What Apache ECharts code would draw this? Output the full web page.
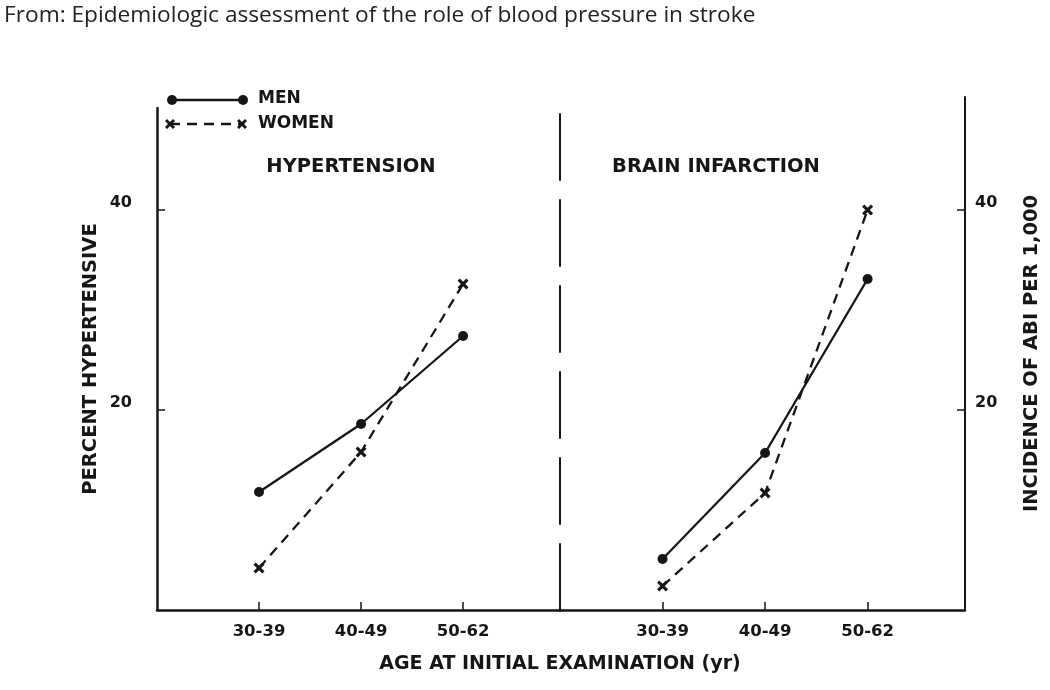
<!DOCTYPE html>
<html>
<head>
<meta charset="utf-8">
<script src="https://cdn.jsdelivr.net/npm/echarts@6/dist/echarts.min.js"></script>
<style>
html,body{margin:0;padding:0;background:#fff;}
#chart{width:1050px;height:690px;}
</style>
</head>
<body>
<div id="chart"></div>
<script>
// ---- data ----
const categories = ['30-39', '40-49', '50-62'];
const hypertensionMen = [11.8, 18.6, 27.4];
const hypertensionWomen = [4.2, 15.8, 32.6];
const infarctionMen = [5.1, 15.7, 33.1];
const infarctionWomen = [2.4, 11.7, 40.0];
const yTickValues = [20, 40];
const panelTitles = ['HYPERTENSION', 'BRAIN INFARCTION'];
const seriesNames = ['MEN', 'WOMEN'];
const leftAxisName = 'PERCENT HYPERTENSIVE';
const rightAxisName = 'INCIDENCE OF ABI PER 1,000';
const xAxisName = 'AGE AT INITIAL EXAMINATION (yr)';
const pageTitle = 'From: Epidemiologic assessment of the role of blood pressure in stroke';

// ---- chart ----
const INK = '#161616';
const FONT = 'DejaVu Sans';
const xPos = categories.map((c, i) => i + 1);
const toPts = vals => vals.map((v, i) => [xPos[i], v]);
const xSymbol = 'path://M2,0 L5,3 L8,0 L10,2 L7,5 L10,8 L8,10 L5,7 L2,10 L0,8 L3,5 L0,2 Z';
function crossPoints(cx, cy, s) {
  const p = [[2,0],[5,3],[8,0],[10,2],[7,5],[10,8],[8,10],[5,7],[2,10],[0,8],[3,5],[0,2]];
  return p.map(q => [cx + (q[0] - 5) * s / 10, cy + (q[1] - 5) * s / 10]);
}

function xAxisFor(gridIndex) {
  return {
    type: 'value', gridIndex, min: 0, max: 3.95, interval: 1,
    axisLine: {show: true, lineStyle: {color: INK, width: 2.5}},
    axisTick: {show: true, inside: true, length: 8, lineStyle: {color: INK, width: 1.5}, customValues: xPos},
    axisLabel: {show: true, customValues: xPos, color: INK, fontFamily: FONT, fontWeight: 'bold', fontSize: 16.5, margin: 13,
      formatter: v => categories[Math.round(v) - 1] || ''},
    splitLine: {show: false}
  };
}
function yBase(gridIndex, max) {
  return {type: 'value', gridIndex, min: 0, max: max, interval: 20, splitLine: {show: false}};
}

const chart = echarts.init(document.getElementById('chart'), null, {renderer: 'canvas'});
chart.setOption({
  backgroundColor: '#fff',
  animation: false,
  title: [
    {text: pageTitle, left: 4, top: 4, padding: 0, textStyle: {fontFamily: 'Open Sans', fontWeight: 'normal', fontSize: 22.7, color: '#222'}},
    {text: panelTitles[0], left: 351, top: 157, padding: 0, textAlign: 'center', textStyle: {fontFamily: FONT, fontWeight: 'bold', fontSize: 19.5, color: INK}},
    {text: panelTitles[1], left: 716, top: 157, padding: 0, textAlign: 'center', textStyle: {fontFamily: FONT, fontWeight: 'bold', fontSize: 19.5, color: INK}},
    {text: xAxisName, left: 560, top: 655, padding: 0, textAlign: 'center', textStyle: {fontFamily: FONT, fontWeight: 'bold', fontSize: 19, color: INK}}
  ],
  grid: [
    {left: 157, top: 108, width: 403, height: 502, containLabel: false},
    {left: 560, top: 97, width: 405, height: 513, containLabel: false}
  ],
  xAxis: [xAxisFor(0), xAxisFor(1)],
  yAxis: [
    Object.assign(yBase(0, 50.2), {
      position: 'left',
      name: leftAxisName, nameLocation: 'middle', nameRotate: 90, nameGap: 56,
      nameTextStyle: {fontFamily: FONT, fontWeight: 'bold', fontSize: 19.5, color: INK},
      axisLine: {show: true, lineStyle: {color: INK, width: 2.5}},
      axisTick: {show: true, inside: true, length: 8, customValues: yTickValues, lineStyle: {color: INK, width: 1.5}},
      axisLabel: {show: true, customValues: yTickValues, margin: 25, verticalAlign: 'bottom', lineHeight: 14, color: INK, fontFamily: FONT, fontWeight: 'bold', fontSize: 16}
    }),
    Object.assign(yBase(1, 51.3), {
      position: 'left',
      axisLine: {show: true, lineStyle: {color: INK, width: 2, type: [66, 20]}},
      axisTick: {show: false},
      axisLabel: {show: false}
    }),
    Object.assign(yBase(1, 51.3), {
      position: 'right',
      name: rightAxisName, nameLocation: 'middle', nameRotate: 90, nameGap: 57,
      nameTextStyle: {fontFamily: FONT, fontWeight: 'bold', fontSize: 19.5, color: INK},
      axisLine: {show: true, lineStyle: {color: INK, width: 2}},
      axisTick: {show: true, inside: true, length: 8, customValues: yTickValues, lineStyle: {color: INK, width: 1.5}},
      axisLabel: {show: true, customValues: yTickValues, margin: 10, verticalAlign: 'bottom', lineHeight: 14, color: INK, fontFamily: FONT, fontWeight: 'bold', fontSize: 16}
    })
  ],
  series: [
    {name: seriesNames[0], type: 'line', xAxisIndex: 0, yAxisIndex: 0, data: toPts(hypertensionMen),
      symbol: 'circle', symbolSize: 10, lineStyle: {color: INK, width: 2.3}, itemStyle: {color: INK}},
    {name: seriesNames[1], type: 'line', xAxisIndex: 0, yAxisIndex: 0, data: toPts(hypertensionWomen),
      symbol: xSymbol, symbolSize: 11, lineStyle: {color: INK, width: 2.3, type: [10, 7]}, itemStyle: {color: INK}},
    {name: seriesNames[0], type: 'line', xAxisIndex: 1, yAxisIndex: 2, data: toPts(infarctionMen),
      symbol: 'circle', symbolSize: 10, lineStyle: {color: INK, width: 2.3}, itemStyle: {color: INK}},
    {name: seriesNames[1], type: 'line', xAxisIndex: 1, yAxisIndex: 2, data: toPts(infarctionWomen),
      symbol: xSymbol, symbolSize: 11, lineStyle: {color: INK, width: 2.3, type: [10, 7]}, itemStyle: {color: INK}}
  ],
  graphic: [
    {type: 'line', shape: {x1: 172, y1: 100, x2: 243, y2: 100}, style: {stroke: INK, lineWidth: 2.3}},
    {type: 'circle', shape: {cx: 172, cy: 100, r: 5}, style: {fill: INK}},
    {type: 'circle', shape: {cx: 243, cy: 100, r: 5}, style: {fill: INK}},
    {type: 'text', x: 258, y: 99, style: {text: seriesNames[0], fontFamily: FONT, fontWeight: 'bold', fontSize: 17, fill: INK, verticalAlign: 'middle'}},
    {type: 'line', shape: {x1: 170, y1: 124, x2: 241, y2: 124}, style: {stroke: INK, lineWidth: 2.3, lineDash: [10, 7]}},
    {type: 'polygon', shape: {points: crossPoints(170, 124, 10)}, style: {fill: INK}},
    {type: 'polygon', shape: {points: crossPoints(242, 124, 10)}, style: {fill: INK}},
    {type: 'text', x: 258, y: 124, style: {text: seriesNames[1], fontFamily: FONT, fontWeight: 'bold', fontSize: 17, fill: INK, verticalAlign: 'middle'}}
  ]
});
</script>
</body>
</html>
